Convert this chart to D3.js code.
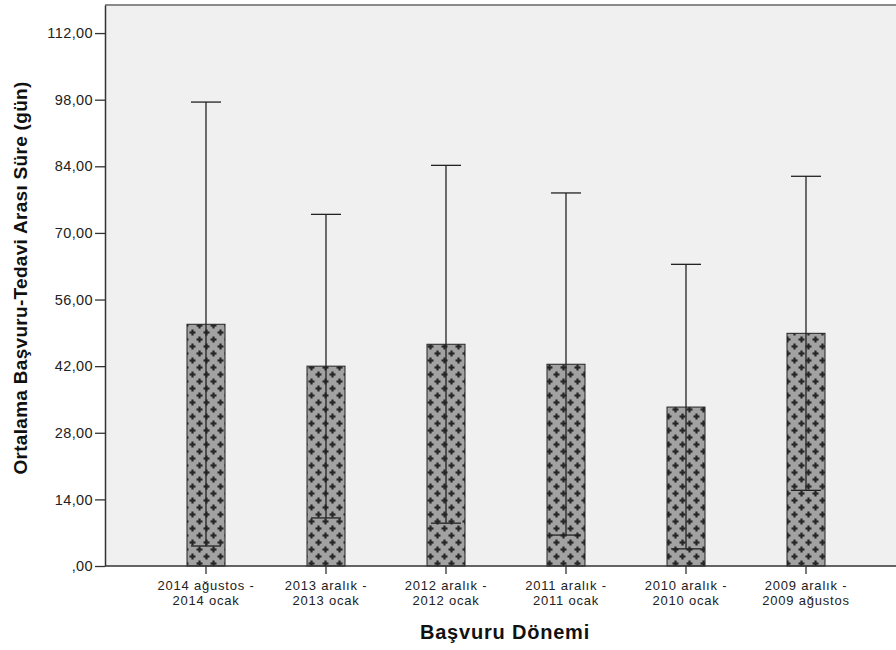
<!DOCTYPE html>
<html>
<head>
<meta charset="utf-8">
<script src="https://cdn.jsdelivr.net/npm/d3@7"></script>
<style>
  body { margin: 0; background: #fff; }
  text { font-family: "Liberation Sans", Arial, sans-serif; }
</style>
</head>
<body>
<div id="chart"></div>
<script>
// data
var categories = [
  ["2014 ağustos -", "2014 ocak"],
  ["2013 aralık -", "2013 ocak"],
  ["2012 aralık -", "2012 ocak"],
  ["2011 aralık -", "2011 ocak"],
  ["2010 aralık -", "2010 ocak"],
  ["2009 aralık -", "2009 ağustos"]
];
var means = [50.8, 42.0, 46.6, 42.4, 33.4, 48.9];
var errUpper = [97.5, 73.9, 84.2, 78.4, 63.4, 81.9];
var errLower = [4.2, 10.1, 9.0, 6.5, 3.6, 15.9];
var yTicks = [0, 14, 28, 42, 56, 70, 84, 98, 112];

var width = 896, height = 650;
var margin = { top: 5, left: 105, bottom: 84, right: 0 };

var svg = d3.select("#chart").append("svg")
    .attr("width", width)
    .attr("height", height);

// cross hatch like the SPSS fill
var defs = svg.append("defs");
var pat = defs.append("pattern")
    .attr("id", "cross")
    .attr("patternUnits", "userSpaceOnUse")
    .attr("width", 14)
    .attr("height", 14);
pat.append("rect").attr("width", 14).attr("height", 14).attr("fill", "#a2a2a2");
[[3.5, 3.5], [10.5, 10.5]].forEach(function(c) {
  pat.append("rect").attr("x", c[0] - 3).attr("y", c[1] - 1.1).attr("width", 6).attr("height", 2.2).attr("fill", "#262626");
  pat.append("rect").attr("x", c[0] - 1.1).attr("y", c[1] - 3).attr("width", 2.2).attr("height", 6).attr("fill", "#262626");
});

var y = d3.scaleLinear()
    .domain([0, 117.9])
    .range([height - margin.bottom, margin.top]);

var x = d3.scaleBand()
    .domain(d3.range(categories.length))
    .range([146, 866]);

var barW = 38, capW = 30;

// plot background
svg.append("rect")
    .attr("x", margin.left)
    .attr("y", margin.top)
    .attr("width", width - margin.left)
    .attr("height", y(0) - margin.top)
    .attr("fill", "#f0f0f0");

svg.append("line")
    .attr("x1", margin.left).attr("x2", width)
    .attr("y1", margin.top).attr("y2", margin.top)
    .attr("stroke", "#8a8a8a")
    .attr("stroke-width", 2);

// bars
var g = svg.append("g");
g.selectAll("rect.bar")
    .data(means)
  .enter().append("rect")
    .attr("class", "bar")
    .attr("x", function(d, i) { return x(i) + x.bandwidth() / 2 - barW / 2; })
    .attr("y", function(d) { return y(d); })
    .attr("width", barW)
    .attr("height", function(d) { return y(0) - y(d); })
    .attr("fill", "url(#cross)")
    .attr("stroke", "#222")
    .attr("stroke-width", 1);

// error bars
var eb = g.selectAll("g.err")
    .data(means)
  .enter().append("g")
    .attr("class", "err")
    .attr("stroke", "#222")
    .attr("stroke-width", 1.3);
eb.append("line")
    .attr("x1", function(d, i) { return x(i) + x.bandwidth() / 2; })
    .attr("x2", function(d, i) { return x(i) + x.bandwidth() / 2; })
    .attr("y1", function(d, i) { return y(errLower[i]); })
    .attr("y2", function(d, i) { return y(errUpper[i]); });
eb.append("line")
    .attr("x1", function(d, i) { return x(i) + x.bandwidth() / 2 - capW / 2; })
    .attr("x2", function(d, i) { return x(i) + x.bandwidth() / 2 + capW / 2; })
    .attr("y1", function(d, i) { return y(errUpper[i]); })
    .attr("y2", function(d, i) { return y(errUpper[i]); });
eb.append("line")
    .attr("x1", function(d, i) { return x(i) + x.bandwidth() / 2 - capW / 2; })
    .attr("x2", function(d, i) { return x(i) + x.bandwidth() / 2 + capW / 2; })
    .attr("y1", function(d, i) { return y(errLower[i]); })
    .attr("y2", function(d, i) { return y(errLower[i]); });

// y axis
var fmt = function(d) { return d === 0 ? ",00" : d3.format(".2f")(d).replace(".", ","); };
var yAxis = svg.append("g")
    .attr("transform", "translate(" + margin.left + ",0)")
    .call(d3.axisLeft(y).tickValues(yTicks).tickFormat(fmt).tickSize(10).tickPadding(2).tickSizeOuter(0));
yAxis.select(".domain").attr("stroke", "#333").attr("stroke-width", 1.5);
yAxis.selectAll(".tick line").attr("stroke", "#333").attr("stroke-width", 1.3);
yAxis.selectAll("text").attr("font-size", 14.5).attr("fill", "#222")
    .style("letter-spacing", "0.4px")
    .style("font-family", "'Liberation Sans', Arial, sans-serif");

// x axis, two-line category labels
var xAxis = svg.append("g")
    .attr("transform", "translate(0," + y(0) + ")")
    .call(d3.axisBottom(x).tickSize(8).tickSizeOuter(0).tickFormat(""));
xAxis.select(".domain").attr("d", "M" + margin.left + ",0H" + width)
    .attr("stroke", "#333").attr("stroke-width", 1.5);
xAxis.selectAll(".tick line").attr("stroke", "#333").attr("stroke-width", 1.3);
xAxis.selectAll(".tick").each(function(d) {
  var t = d3.select(this).append("text")
      .attr("text-anchor", "middle")
      .attr("font-size", 13)
      .attr("fill", "#222")
      .style("letter-spacing", "0.8px");
  categories[d].forEach(function(line, k) {
    t.append("tspan").attr("x", 0).attr("y", 24 + k * 14.6).text(line);
  });
});

// titles
svg.append("text")
    .attr("x", 505)
    .attr("y", 639)
    .attr("text-anchor", "middle")
    .attr("font-size", 20)
    .attr("font-weight", "bold")
    .attr("fill", "#111")
    .style("letter-spacing", "0.8px")
    .text("Başvuru Dönemi");

svg.append("text")
    .attr("transform", "translate(27,278) rotate(-90)")
    .attr("text-anchor", "middle")
    .attr("font-size", 19)
    .attr("font-weight", "bold")
    .attr("fill", "#111")
    .style("letter-spacing", "0.3px")
    .text("Ortalama Başvuru-Tedavi Arası Süre (gün)");
</script>
</body>
</html>
